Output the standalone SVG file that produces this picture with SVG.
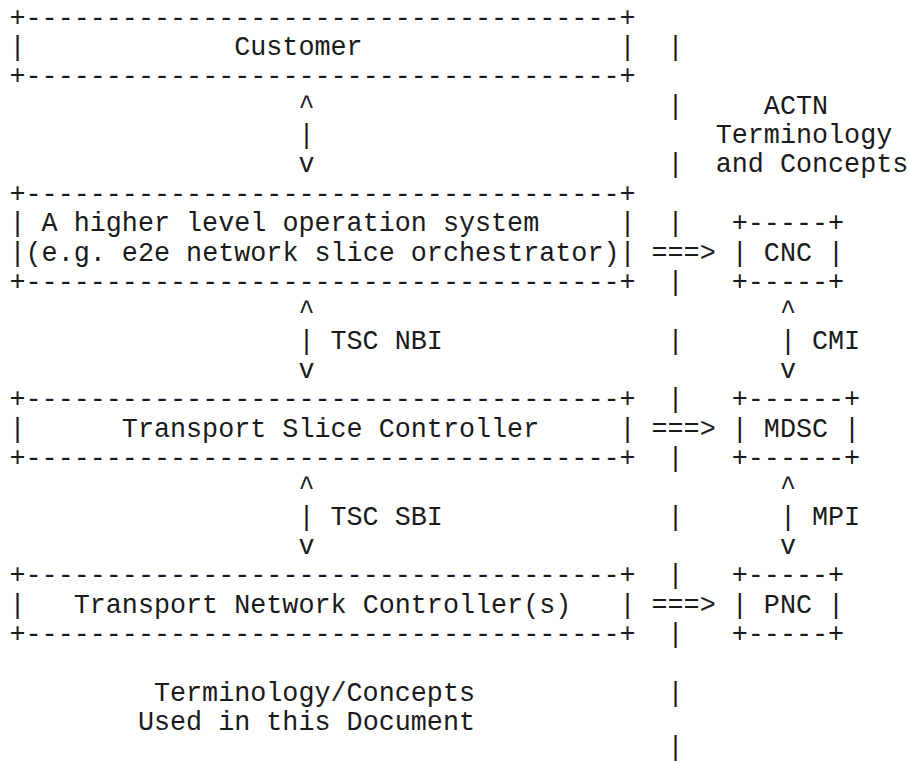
<svg xmlns="http://www.w3.org/2000/svg" width="908" height="761" viewBox="0 0 908 761" xml:space="preserve">
<style>
text { font-family: "Liberation Mono", "DejaVu Sans Mono", monospace; font-size: 26.75px; fill: #1a1a1a; white-space: pre; }
</style>
<rect width="908" height="761" fill="#fff"/>
<g id="customer">
<text x="9.5" y="25.7">+-------------------------------------+</text>
<text x="9.5" y="55.05">|</text><text x="234.2" y="55.05">Customer</text><text x="619.4" y="55.05">|</text>
<text x="9.5" y="84.4">+-------------------------------------+</text>
</g>
<g id="orchestrator">
<text x="9.5" y="201.8">+-------------------------------------+</text>
<text x="9.5" y="231.15">|</text><text x="41.6" y="231.15">A higher level operation system</text><text x="619.4" y="231.15">|</text>
<text x="9.5" y="260.5">|(e.g. e2e network slice orchestrator)|</text>
<text x="9.5" y="289.85">+-------------------------------------+</text>
</g>
<g id="tsc">
<text x="9.5" y="407.25">+-------------------------------------+</text>
<text x="9.5" y="436.6">|</text><text x="121.85" y="436.6">Transport Slice Controller</text><text x="619.4" y="436.6">|</text>
<text x="9.5" y="465.95">+-------------------------------------+</text>
</g>
<g id="tnc">
<text x="9.5" y="583.35">+-------------------------------------+</text>
<text x="9.5" y="612.7">|</text><text x="73.7" y="612.7">Transport Network Controller(s)</text><text x="619.4" y="612.7">|</text>
<text x="9.5" y="642.05">+-------------------------------------+</text>
</g>
<g id="cnc">
<text x="731.75" y="231.15">+-----+</text>
<text x="731.75" y="260.5">|</text><text x="763.85" y="260.5">CNC</text><text x="828.05" y="260.5">|</text>
<text x="731.75" y="289.85">+-----+</text>
</g>
<g id="mdsc">
<text x="731.75" y="407.25">+------+</text>
<text x="731.75" y="436.6">|</text><text x="763.85" y="436.6">MDSC</text><text x="844.1" y="436.6">|</text>
<text x="731.75" y="465.95">+------+</text>
</g>
<g id="pnc">
<text x="731.75" y="583.35">+-----+</text>
<text x="731.75" y="612.7">|</text><text x="763.85" y="612.7">PNC</text><text x="828.05" y="612.7">|</text>
<text x="731.75" y="642.05">+-----+</text>
</g>
<g id="connectors">
<text x="298.4" y="113.75">^</text><text x="298.4" y="143.1">|</text><text x="298.4" y="172.45">v</text>
<text x="298.4" y="319.2">^</text><text x="298.4" y="348.55">| TSC NBI</text><text x="298.4" y="377.9">v</text>
<text x="298.4" y="495.3">^</text><text x="298.4" y="524.65">| TSC SBI</text><text x="298.4" y="554">v</text>
<text x="779.9" y="319.2">^</text><text x="779.9" y="348.55">| CMI</text><text x="779.9" y="377.9">v</text>
<text x="779.9" y="495.3">^</text><text x="779.9" y="524.65">| MPI</text><text x="779.9" y="554">v</text>
<text x="651.5" y="260.5">===&gt;</text>
<text x="651.5" y="436.6">===&gt;</text>
<text x="651.5" y="612.7">===&gt;</text>
</g>
<g id="divider">
<text x="667.55" y="55.05">|</text>
<text x="667.55" y="113.75">|</text>
<text x="667.55" y="172.45">|</text>
<text x="667.55" y="231.15">|</text>
<text x="667.55" y="289.85">|</text>
<text x="667.55" y="348.55">|</text>
<text x="667.55" y="407.25">|</text>
<text x="667.55" y="465.95">|</text>
<text x="667.55" y="524.65">|</text>
<text x="667.55" y="583.35">|</text>
<text x="667.55" y="642.05">|</text>
<text x="667.55" y="700.75">|</text>
<text x="667.55" y="754.5">|</text>
</g>
<g id="labels">
<text x="763.85" y="113.75">ACTN</text>
<text x="715.7" y="143.1">Terminology</text>
<text x="715.7" y="172.45">and Concepts</text>
<text x="153.95" y="700.75">Terminology/Concepts</text>
<text x="137.9" y="730.1">Used in this Document</text>
</g>
</svg>
